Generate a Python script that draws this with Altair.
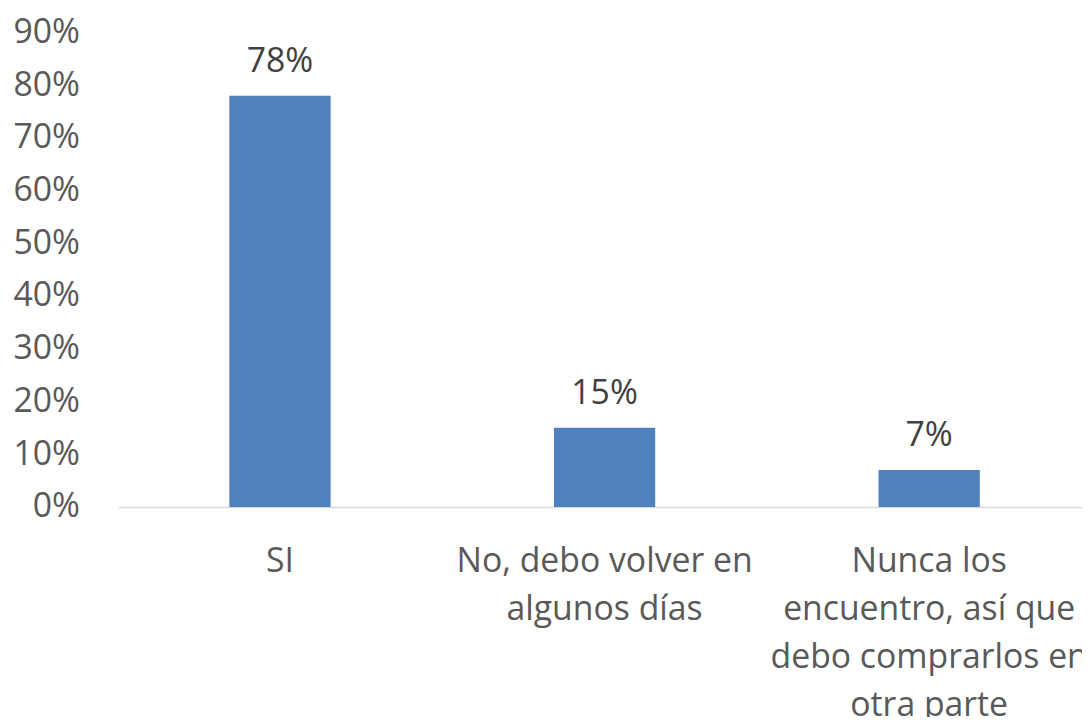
import altair as alt
import pandas as pd

categories = ["SI", "No, debo volver en|algunos días",
              "Nunca los|encuentro, así que|debo comprarlos en|otra parte"]
values = [0.78, 0.15, 0.07]
value_labels = ["78%", "15%", "7%"]

df = pd.DataFrame({"cat": categories, "val": values, "lbl": value_labels})

FONT = "Open Sans"

x = alt.X("cat:N", sort=categories, title=None,
          scale=alt.Scale(paddingInner=0.688, paddingOuter=0.3286, align=0.521),
          axis=alt.Axis(labelAngle=0, labelExpr="split(datum.label, '|')",
                        labelFont=FONT, labelFontSize=34, labelColor="#595959",
                        labelLineHeight=48.5, labelPadding=38, labelBaseline="top",
                        ticks=False, domainColor="#d9d9d9", domainWidth=1.5,
                        labelLimit=0, labelOverlap=False))
y = alt.Y("val:Q", title=None,
          scale=alt.Scale(domain=[0, 0.9], nice=False),
          axis=alt.Axis(format=".0%", values=[i / 10 for i in range(10)],
                        labelFont=FONT, labelFontSize=34, labelColor="#595959",
                        labelPadding=39, ticks=False, domain=False, grid=False))

bars = alt.Chart(df).mark_bar(color="#4F81BD").encode(x=x, y=y)
text = alt.Chart(df).mark_text(baseline="alphabetic", dy=-24, font=FONT,
                               fontSize=34, color="#404040").encode(
    x=alt.X("cat:N", sort=categories), y="val:Q", text="lbl:N")

chart = (bars + text).properties(
    width=971, height=478,
    background="white",
    autosize=alt.AutoSizeParams(type="none"),
    padding={"left": 111, "top": 22, "right": 0, "bottom": 209},
).configure_view(stroke=None)

chart.save("out.html", embed_options={"renderer": "svg", "actions": False})
